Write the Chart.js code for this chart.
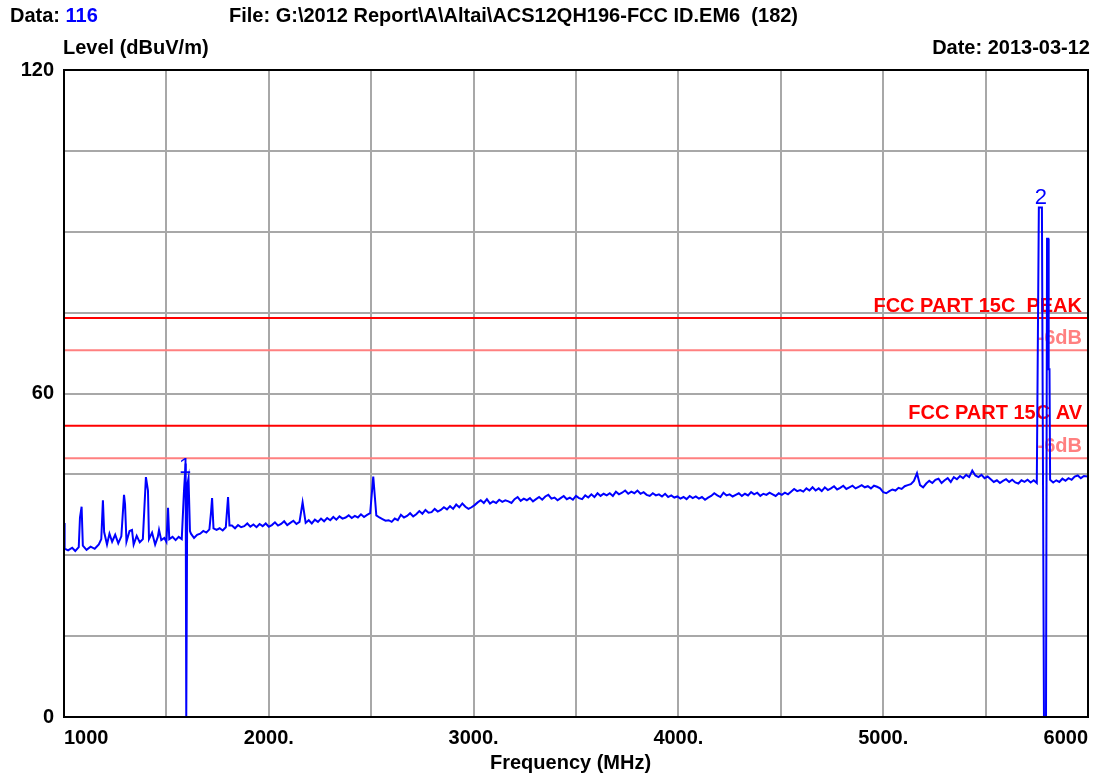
<!DOCTYPE html>
<html>
<head>
<meta charset="utf-8">
<script src="https://cdn.jsdelivr.net/npm/chart.js@4.4.0/dist/chart.umd.min.js"></script>
<style>
    body { margin: 0; background: #fff; }
    #wrap { position: relative; width: 1107px; height: 778px; font-family: "Liberation Sans", Arial, sans-serif; font-weight: bold; font-size: 20px; color: #000; }
    #wrap .t { position: absolute; line-height: 20px; white-space: pre; }
    canvas { position: absolute; left: 0; top: 0; }
</style>
</head>
<body>
<div id="wrap">
    <canvas id="chart" width="1107" height="778"></canvas>
    <div class="t" style="left:10px; top:5px;">Data: <span style="color:#0000ff">116</span></div>
    <div class="t" style="left:229px; top:5px;">File: G:\2012 Report\A\Altai\ACS12QH196-FCC ID.EM6  (182)</div>
    <div class="t" style="left:63px; top:37px;">Level (dBuV/m)</div>
    <div class="t" style="right:17px; top:37px;">Date: 2013-03-12</div>
    <div class="t" style="left:490px; top:752px;">Frequency (MHz)</div>
</div>
<script>
// 扫描数据 (MHz, dBuV/m)
const freqs = [
    1000, 1003, 1020, 1040, 1055, 1072, 1078, 1086, 1092, 1110, 1130, 1150, 1170, 1182, 1190, 1196,
    1210, 1222, 1235, 1250, 1265, 1280, 1293, 1298, 1305, 1320, 1332, 1340, 1355, 1370, 1385, 1400,
    1410, 1415, 1430, 1445, 1458, 1464, 1475, 1490, 1500, 1508, 1514, 1530, 1545, 1560, 1575, 1586,
    1594, 1597, 1599, 1602, 1608, 1615, 1620, 1635, 1650, 1665, 1680, 1695, 1710, 1718, 1723, 1730,
    1745, 1760, 1775, 1790, 1801, 1808,
    1820, 1835, 1850, 1865, 1880, 1895, 1910, 1925, 1940, 1955,
    1970, 1985, 2000, 2015, 2030, 2045, 2060, 2075, 2090, 2105,
    2120, 2135, 2150, 2165, 2180, 2195, 2210, 2225, 2240, 2255,
    2270, 2285, 2300, 2315, 2330, 2345, 2360, 2375, 2390, 2405,
    2420, 2435, 2450, 2465, 2480, 2495, 2510, 2525, 2540, 2555,
    2570, 2585, 2600, 2615, 2630, 2645, 2660, 2675, 2690, 2705,
    2720, 2735, 2750, 2765, 2780, 2795, 2810, 2825, 2840, 2855,
    2870, 2885, 2900, 2915, 2930, 2945, 2960, 2975, 2990, 3005,
    3020, 3035, 3050, 3065, 3080, 3095, 3110, 3125, 3140, 3155,
    3170, 3185, 3200, 3215, 3230, 3245, 3260, 3275, 3290, 3305,
    3320, 3335, 3350, 3365, 3380, 3395, 3410, 3425, 3440, 3455,
    3470, 3485, 3500, 3515, 3530, 3545, 3560, 3575, 3590, 3605,
    3620, 3635, 3650, 3665, 3680, 3695, 3710, 3725, 3740, 3755,
    3770, 3785, 3800, 3815, 3830, 3845, 3860, 3875, 3890, 3905,
    3920, 3935, 3950, 3965, 3980, 3995, 4010, 4025, 4040, 4055,
    4070, 4085, 4100, 4115, 4130, 4145, 4160, 4175, 4190, 4205,
    4220, 4235, 4250, 4265, 4280, 4295, 4310, 4325, 4340, 4355,
    4370, 4385, 4400, 4415, 4430, 4445, 4460, 4475, 4490, 4505,
    4520, 4535, 4550, 4565, 4580, 4595, 4610, 4625, 4640, 4655,
    4670, 4685, 4700, 4715, 4730, 4745, 4760, 4775, 4790, 4805,
    4820, 4835, 4850, 4865, 4880, 4895, 4910, 4925, 4940, 4955,
    4970, 4985, 5000, 5015, 5030, 5045, 5060, 5075, 5090, 5105,
    5120, 5135, 5150, 5165, 5180, 5195, 5210, 5225, 5240, 5255,
    5270, 5285, 5300, 5315, 5330, 5345, 5360, 5375, 5390, 5405,
    5420, 5435, 5450, 5465, 5480, 5495, 5510, 5525, 5540, 5555,
    5570, 5585, 5600, 5615, 5630, 5645, 5660, 5675, 5690, 5705,
    5720, 5735, 5750,
    5760, 5775, 5785, 5795, 5800, 5806, 5808, 5812, 5815,
    5830, 5845, 5860, 5875, 5890, 5905, 5920, 5935, 5950, 5965, 5980, 6000
];
const levels = [
    36.0, 31.2, 30.9, 31.4, 30.8, 31.5, 37.0, 39.0, 31.8, 31.0, 31.6, 31.2, 32.0, 33.0, 40.2, 34.3,
    32.0, 34.0, 32.5, 33.8, 32.2, 33.5, 41.2, 39.5, 32.5, 34.5, 34.7, 32.0, 33.6, 32.4, 33.0, 44.5,
    42.0, 33.0, 34.2, 32.0, 33.4, 34.7, 32.8, 33.2, 32.5, 38.8, 33.0, 33.4, 32.8, 33.4, 33.0, 42.0,
    47.0, 0.0, 0.0, 43.0, 44.3, 34.5, 34.0, 33.2, 33.8, 34.0, 34.5, 34.2, 34.8, 38.0, 40.6, 35.0,
    34.7, 35.0, 34.6, 35.2, 40.8, 35.5,
    35.5, 35.0, 35.6, 35.2, 35.4, 35.9, 35.3, 35.7, 35.2, 35.8,
    35.4, 35.9, 35.3, 35.6, 36.1, 35.5, 35.8, 36.3, 35.6, 36.0,
    36.4, 35.8, 36.2, 39.8, 36.0, 36.5, 35.9, 36.6, 36.2, 36.8,
    36.3, 36.9, 36.5, 37.1, 36.6, 37.2, 36.8, 37.0, 37.4, 36.9,
    37.3, 37.0, 37.6, 37.1, 37.5, 37.8, 44.6, 37.4, 37.0, 36.7,
    36.4, 36.5, 36.2, 36.8, 36.5, 37.5, 37.0, 37.3, 37.8, 37.2,
    37.6, 38.2, 37.7, 38.4, 37.9, 38.0, 38.6, 38.1, 38.4, 38.9,
    38.5, 39.1, 38.6, 39.4, 38.9, 39.6, 39.0, 38.6, 38.9, 39.3,
    39.8, 40.2, 39.7, 40.4, 39.6, 40.0, 39.7, 40.3, 39.9, 40.2,
    40.0, 39.7, 40.4, 40.8, 40.1, 40.5, 40.2, 40.6, 40.0, 40.4,
    40.8, 40.3, 40.9, 41.2, 40.5, 40.7, 40.2, 40.6, 41.0, 40.4,
    40.7, 40.3, 41.0, 40.6, 40.4, 41.1, 40.7, 41.3, 40.8, 41.5,
    41.0, 41.4, 41.1, 41.5, 41.0, 41.8, 41.3, 41.6, 42.0, 41.4,
    41.8, 41.5, 42.0, 41.4, 41.7, 41.2, 41.0, 41.5, 41.1, 41.3,
    40.9, 41.4, 40.8, 41.1, 40.7, 40.9, 40.5, 40.8, 40.4, 41.0,
    40.6, 40.9, 40.5, 40.8, 40.3, 40.7, 41.0, 41.5, 41.1, 40.8,
    41.6, 41.1, 41.3, 40.9, 41.2, 41.5, 41.0, 41.4, 41.1, 41.7,
    41.3, 41.6, 41.0, 41.4, 41.2, 41.6, 41.3, 41.0, 41.5, 41.2,
    41.6, 41.3, 41.8, 42.3, 41.9, 42.1, 41.8, 42.4, 42.0, 42.6,
    42.0, 42.4, 41.9, 42.6, 42.1, 42.4, 42.8, 42.2, 42.5, 42.9,
    42.3, 42.6, 42.9, 42.4, 42.7, 43.0, 42.6, 42.8, 42.4, 42.9,
    42.7, 42.4, 41.7, 41.5, 41.9, 42.2, 42.0, 42.5, 42.3, 42.8,
    43.0, 43.2, 43.8, 45.2, 43.0, 42.6, 43.3, 43.8, 43.4, 44.0,
    44.2, 43.4, 43.9, 44.3, 43.6, 44.5, 44.1, 44.7, 44.3, 44.9,
    44.5, 45.7, 44.8, 44.5, 44.9, 44.3, 44.6, 44.1, 43.6, 43.9,
    43.4, 43.8, 44.1, 43.6, 44.0, 43.5, 43.3, 43.9, 43.6, 44.0,
    43.5, 43.9, 43.4,
    94.5, 94.5, 0.0, 0.0, 88.7, 88.7, 64.5, 64.5, 44.0,
    43.5, 43.9, 43.6, 44.2, 43.8, 44.3, 44.0, 44.6, 44.8, 44.3, 44.7, 44.6
];

// 限值线
const limitFreqs = [1000, 6000];
const peakLimit = [74, 74];
const peakMargin = [68, 68];
const avLimit = [54, 54];
const avMargin = [48, 48];

// 标记点
const markerNames = ['1', '2'];
const markerFreqs = [1592, 5770];
const markerLevels = [44.5, 94.5];

const xTicks = [1000, 2000, 3000, 4000, 5000, 6000];
const xTickLabels = ['1000', '2000.', '3000.', '4000.', '5000.', '6000'];
const yTickLabels = [0, 60, 120];

const FONT = '"Liberation Sans", Arial, sans-serif';
const RED = '#ff0000';
const PINK = '#ff8080';

function pts(xs, ys) {
    return xs.map((x, i) => ({ x: x, y: ys[i] }));
}

function limitSet(ys, color) {
    return {
        data: pts(limitFreqs, ys),
        borderColor: color,
        borderWidth: 2,
        pointRadius: 0,
        order: 2
    };
}

const limitTexts = [
    { y: peakLimit[0], text: 'FCC PART 15C  PEAK', color: RED },
    { y: peakMargin[0], text: '-6dB', color: PINK },
    { y: avLimit[0], text: 'FCC PART 15C AV', color: RED },
    { y: avMargin[0], text: '-6dB', color: PINK }
];

// 限值文字画在曲线下面, 边框和标记画在上面
const decor = {
    id: 'decor',
    beforeDatasetsDraw(chart) {
        const ctx = chart.ctx;
        const area = chart.chartArea;
        const y = chart.scales.y;
        ctx.save();
        ctx.font = 'bold 20px ' + FONT;
        ctx.textAlign = 'right';
        ctx.textBaseline = 'bottom';
        limitTexts.forEach(t => {
            ctx.fillStyle = t.color;
            ctx.fillText(t.text, area.right - 6, y.getPixelForValue(t.y) - 2);
        });
        ctx.restore();
    },
    afterDatasetsDraw(chart) {
        const ctx = chart.ctx;
        const area = chart.chartArea;
        const x = chart.scales.x;
        const y = chart.scales.y;
        ctx.save();
        ctx.font = '22px ' + FONT;
        ctx.fillStyle = '#0000ff';
        ctx.textAlign = 'center';
        ctx.textBaseline = 'bottom';
        markerNames.forEach((m, i) => {
            ctx.fillText(m, x.getPixelForValue(markerFreqs[i]), y.getPixelForValue(markerLevels[i]) + 1);
        });
        ctx.strokeStyle = '#000';
        ctx.lineWidth = 2;
        ctx.strokeRect(area.left, area.top, area.right - area.left, area.bottom - area.top);
        ctx.restore();
    }
};

document.addEventListener('DOMContentLoaded', () => {
    const ctx = document.getElementById('chart').getContext('2d');
    new Chart(ctx, {
        type: 'line',
        data: {
            datasets: [
                {
                    data: pts(freqs, levels),
                    borderColor: '#0000ff',
                    borderWidth: 2,
                    pointRadius: 0,
                    order: 1
                },
                limitSet(peakLimit, RED),
                limitSet(peakMargin, PINK),
                limitSet(avLimit, RED),
                limitSet(avMargin, PINK)
            ]
        },
        options: {
            responsive: false,
            animation: false,
            layout: { padding: { left: 0, right: 19, top: 70, bottom: 0 } },
            plugins: { legend: { display: false }, tooltip: { enabled: false } },
            scales: {
                x: {
                    type: 'linear',
                    min: 1000,
                    max: 6000,
                    afterFit: s => { s.height = 61; },
                    afterBuildTicks: s => {
                        s.ticks = [];
                        for (let v = 1000; v <= 6000; v += 500) s.ticks.push({ value: v });
                    },
                    grid: { color: '#a8a8a8', lineWidth: 2, drawTicks: false },
                    border: { color: '#000', width: 2 },
                    ticks: {
                        autoSkip: false,
                        maxRotation: 0,
                        align: 'inner',
                        padding: 9,
                        color: '#000',
                        font: { family: FONT, size: 20, weight: 'bold' },
                        callback: v => {
                            const i = xTicks.indexOf(v);
                            return i >= 0 ? xTickLabels[i] : '';
                        }
                    }
                },
                y: {
                    min: 0,
                    max: 120,
                    afterFit: s => { s.width = 64; },
                    grid: { color: '#a8a8a8', lineWidth: 2, drawTicks: false },
                    border: { color: '#000', width: 2 },
                    ticks: {
                        stepSize: 15,
                        padding: 10,
                        color: '#000',
                        font: { family: FONT, size: 20, weight: 'bold' },
                        callback: v => yTickLabels.includes(v) ? String(v) : ''
                    }
                }
            }
        },
        plugins: [decor]
    });
});
</script>
</body>
</html>
